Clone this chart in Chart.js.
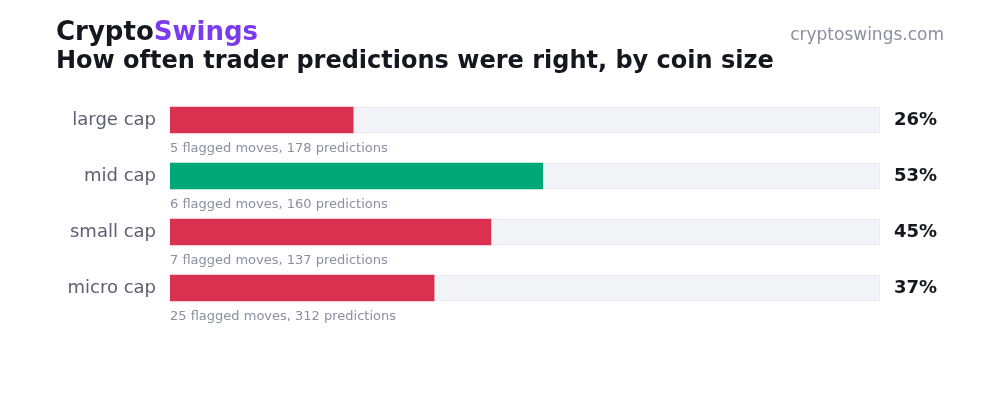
<!DOCTYPE html>
<html>
<head>
<meta charset="utf-8">
<style>
  html, body { margin: 0; padding: 0; background: #ffffff; }
  #wrap { position: relative; width: 1000px; height: 420px; }
  canvas { display: block; }
</style>
<script src="https://cdn.jsdelivr.net/npm/chart.js@4.4.1/dist/chart.umd.min.js"></script>
</head>
<body>
<div id="wrap"><canvas id="c" width="1000" height="420"></canvas></div>
<script>
// ---- data ----
const categories = ["large cap", "mid cap", "small cap", "micro cap"];
const accuracyPct = [25.8, 52.5, 45.2, 37.2];
const flaggedMoves = [5, 6, 7, 25];
const predictions = [178, 160, 137, 312];
const trackMax = [100, 100, 100, 100];

const brandLeft = "Crypto";
const brandRight = "Swings";
const chartTitle = "How often trader predictions were right, by coin size";
const siteLabel = "cryptoswings.com";

// ---- styles ----
const FONT = "'DejaVu Sans', sans-serif";
const RED = "#d9314f";
const GREEN = "#00a878";
const PURPLE = "#7c3aed";
const DARK = "#15161e";

const overlay = {
  id: "overlay",
  afterDraw(chart) {
    const ctx = chart.ctx;
    ctx.save();
    // header
    ctx.textBaseline = "alphabetic";
    ctx.textAlign = "left";
    ctx.font = "bold 26px " + FONT;
    ctx.fillStyle = DARK;
    ctx.fillText(brandLeft, 56, 40);
    const w = ctx.measureText(brandLeft).width;
    ctx.fillStyle = PURPLE;
    ctx.fillText(brandRight, 56 + w, 40);

    ctx.font = "bold 24px " + FONT;
    ctx.fillStyle = DARK;
    ctx.fillText(chartTitle, 56, 68);

    ctx.font = "17px " + FONT;
    ctx.fillStyle = "#8b90a0";
    ctx.textAlign = "right";
    ctx.fillText(siteLabel, 944, 40);

    // per-row labels
    const meta = chart.getDatasetMeta(1);
    const xs = chart.scales.x;
    meta.data.forEach((bar, i) => {
      ctx.textAlign = "left";
      ctx.textBaseline = "middle";
      ctx.font = "bold 18px " + FONT;
      ctx.fillStyle = DARK;
      ctx.fillText(Math.round(accuracyPct[i]) + "%", xs.getPixelForValue(trackMax[i]) + 14, bar.y);

      ctx.textBaseline = "alphabetic";
      ctx.font = "13px " + FONT;
      ctx.fillStyle = "#8a8fa2";
      ctx.fillText(flaggedMoves[i] + " flagged moves, " + predictions[i] + " predictions",
                   xs.getPixelForValue(0), bar.y + 32);
    });
    ctx.restore();
  }
};

new Chart(document.getElementById("c"), {
  type: "bar",
  data: {
    labels: categories,
    datasets: [
      {
        label: "accuracy",
        data: accuracyPct,
        backgroundColor: accuracyPct.map(v => v >= 50 ? GREEN : RED),
        borderWidth: 0,
        barThickness: 26,
        grouped: false
      },
      {
        label: "track",
        data: trackMax,
        backgroundColor: "#f3f4f8",
        borderColor: "#e4e7f0",
        borderWidth: 1,
        borderSkipped: false,
        barThickness: 26,
        grouped: false
      }
    ]
  },
  options: {
    indexAxis: "y",
    responsive: false,
    animation: false,
    layout: { padding: { top: 92, bottom: 104, left: 0, right: 120 } },
    plugins: { legend: { display: false }, tooltip: { enabled: false }, title: { display: false } },
    scales: {
      x: { display: false, min: 0, max: 100 },
      y: {
        grid: { display: false, drawTicks: false },
        border: { display: false },
        ticks: { color: "#5b6174", font: { family: FONT, size: 18 }, padding: 14 },
        afterFit(scale) { scale.width = 170; }
      }
    }
  },
  plugins: [overlay]
});
</script>
</body>
</html>
